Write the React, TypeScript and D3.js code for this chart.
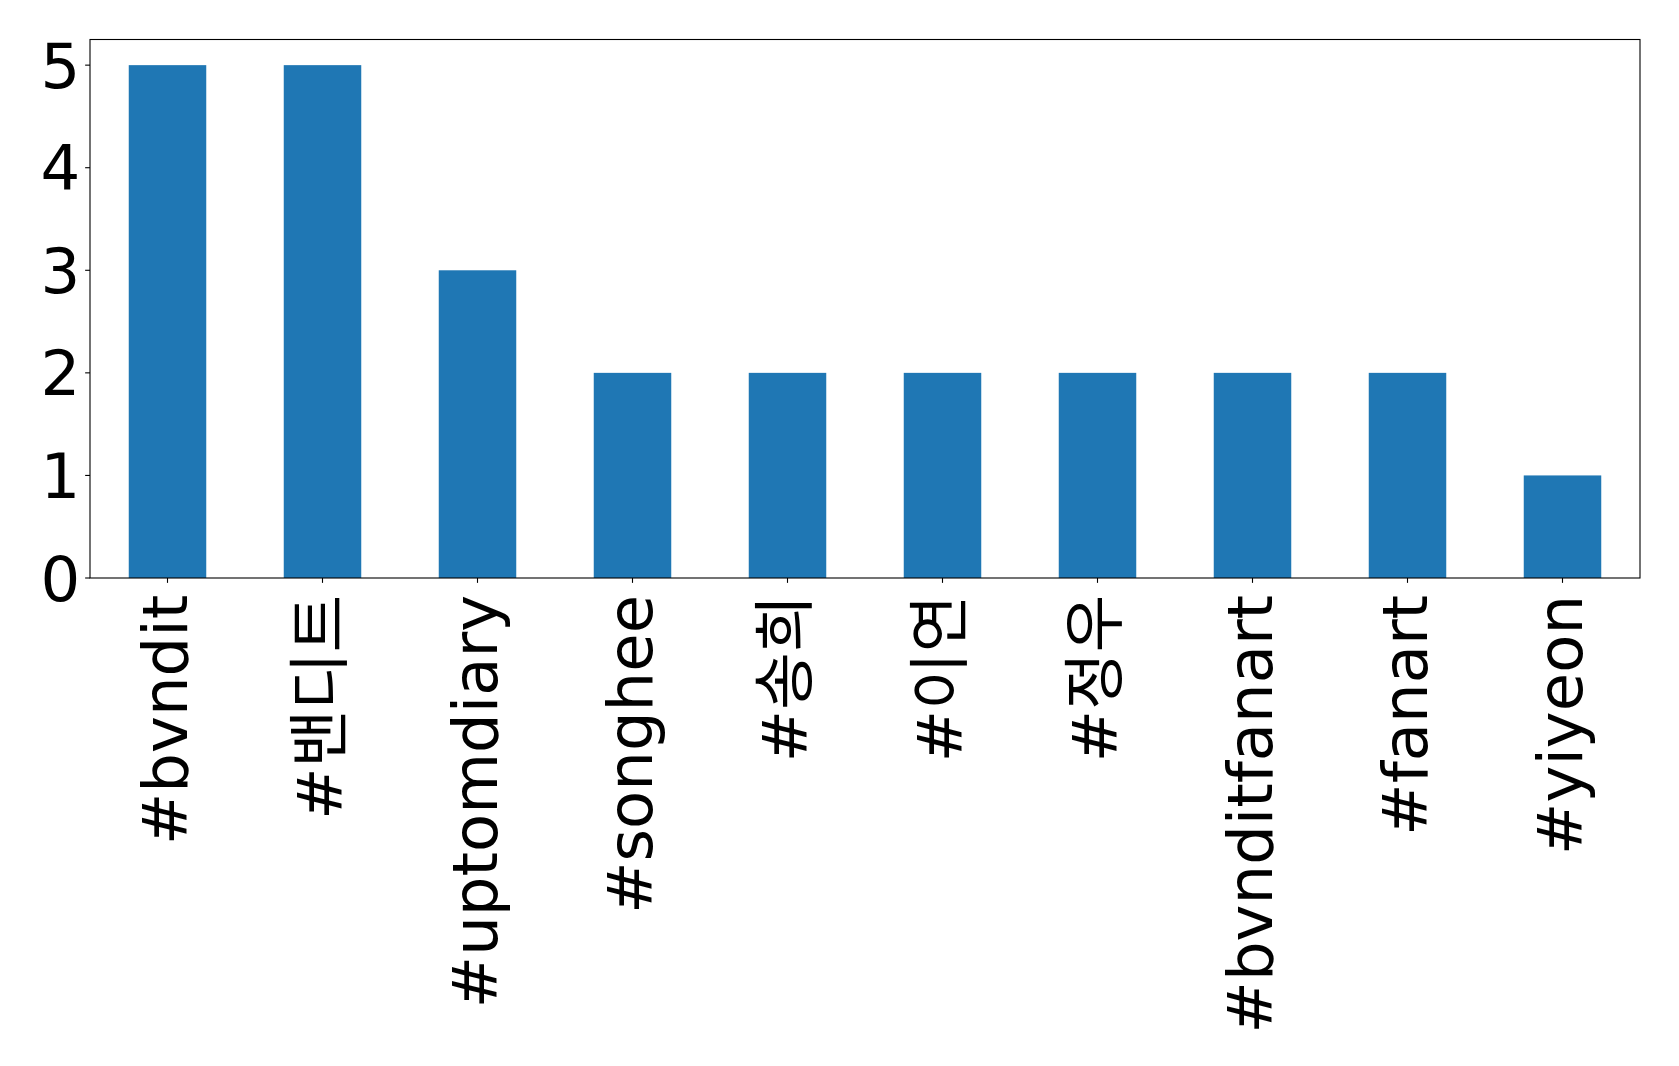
import React from "react";
import * as d3 from "d3";

// Hashtag counts
const tags = [
  "#bvndit",
  "#밴디트",
  "#uptomdiary",
  "#songhee",
  "#송희",
  "#이연",
  "#정우",
  "#bvnditfanart",
  "#fanart",
  "#yiyeon",
];
const counts = [5, 5, 3, 2, 2, 2, 2, 2, 2, 1];
const yTicks = [0, 1, 2, 3, 4, 5];

const W = 1679;
const H = 1066;
const margin = { left: 90, right: 39, top: 39.5, bottom: 488 };
const FONT = "'DejaVu Sans', 'Noto Sans CJK KR', sans-serif";
const FS = 62.5;
const TICK = 4.86;
const PAD = 4.86;
const XLABEL_GAP = 12;

export default function App() {
  const x0 = margin.left;
  const x1 = W - margin.right;
  const y0 = H - margin.bottom;
  const y1 = margin.top;

  const x = d3
    .scaleLinear()
    .domain([-0.5, tags.length - 0.5])
    .range([x0, x1]);
  const y = d3
    .scaleLinear()
    .domain([0, d3.max(counts)! * 1.05])
    .range([y0, y1]);
  const barW = x(0.25) - x(-0.25);

  return (
    <div style={{ position: "absolute", left: 0, top: 0 }}>
      <svg width={W} height={H} style={{ display: "block", background: "#fff" }}>
        {counts.map((c, i) => (
          <rect
            key={tags[i]}
            x={x(i) - barW / 2}
            y={y(c)}
            width={barW}
            height={y(0) - y(c)}
            fill="#1f77b4"
          />
        ))}
        <rect
          x={x0}
          y={y1}
          width={x1 - x0}
          height={y0 - y1}
          fill="none"
          stroke="#000"
          strokeWidth={1.1}
        />
        {yTicks.map((t) => (
          <g key={t}>
            <line x1={x0 - TICK} x2={x0} y1={y(t)} y2={y(t)} stroke="#000" strokeWidth={1.1} />
            <text
              x={x0 - TICK - PAD}
              y={y(t)}
              dy="0.36em"
              textAnchor="end"
              fontFamily={FONT}
              fontSize={FS}
              fill="#000"
            >
              {t}
            </text>
          </g>
        ))}
        {tags.map((tag, i) => (
          <g key={tag}>
            <line x1={x(i)} x2={x(i)} y1={y0} y2={y0 + TICK} stroke="#000" strokeWidth={1.1} />
            <text
              transform={`translate(${x(i)},${y0 + TICK + XLABEL_GAP}) rotate(-90)`}
              dy="0.31em"
              textAnchor="end"
              fontFamily={FONT}
              fontSize={FS}
              fill="#000"
            >
              {tag}
            </text>
          </g>
        ))}
      </svg>
    </div>
  );
}
